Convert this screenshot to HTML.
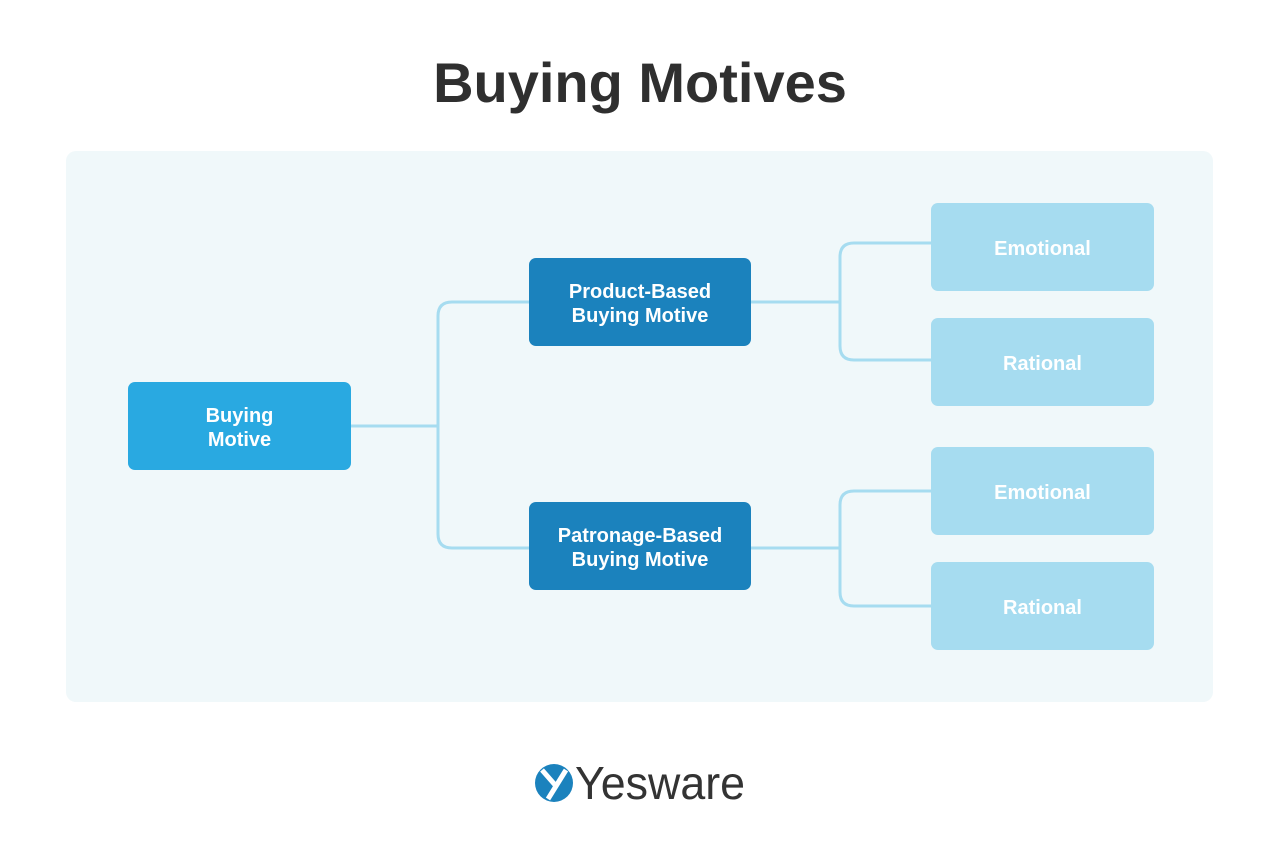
<!DOCTYPE html>
<html><head><meta charset="utf-8"><style>
body{margin:0;width:1280px;height:863px;background:#fff;position:relative;overflow:hidden;font-family:"Liberation Sans",sans-serif}
.t{position:absolute;left:0;width:1280px;top:50px;text-align:center;font-size:56px;font-weight:bold;color:#2f2f2f;letter-spacing:0px}
.panel{position:absolute;left:66px;top:151px;width:1147px;height:551px;background:#f0f8fa;border-radius:10px}
.b{position:absolute;display:flex;align-items:center;justify-content:center;text-align:center;color:#fff;font-weight:bold;font-size:20px;line-height:24px;border-radius:7px;padding-top:3px;box-sizing:border-box}
.d{background:#1b82bd;width:222px;height:88px;left:529px}
.l{background:#a6dcf0;width:223px;height:88px;left:931px}
svg{position:absolute;left:0;top:0}
</style></head><body>
<div class="t">Buying Motives</div>
<div class="panel"></div>
<svg width="1280" height="863"><g fill="none" stroke="#a6dcf0" stroke-width="3">
<path d="M351 426H438"/>
<path d="M529 302H452Q438 302 438 316V534Q438 548 452 548H529"/>
<path d="M751 302H840"/><path d="M931 243H854Q840 243 840 257V346Q840 360 854 360H931"/>
<path d="M751 548H840"/><path d="M931 491H854Q840 491 840 505V592Q840 606 854 606H931"/>
</g>
<circle cx="554" cy="783" r="19" fill="#1b82bd"/>
<path d="M542 770L556 786M566 770L548 799" stroke="#fff" stroke-width="5" fill="none"/>
<text x="575" y="799" font-family="Liberation Sans" font-size="46" fill="#333" textLength="170" lengthAdjust="spacingAndGlyphs">Yesware</text>
</svg>
<div class="b" style="background:#29a9e1;left:128px;top:382px;width:223px;height:88px">Buying<br>Motive</div>
<div class="b d" style="top:258px">Product-Based<br>Buying Motive</div>
<div class="b d" style="top:502px">Patronage-Based<br>Buying Motive</div>
<div class="b l" style="top:203px">Emotional</div>
<div class="b l" style="top:318px">Rational</div>
<div class="b l" style="top:447px">Emotional</div>
<div class="b l" style="top:562px">Rational</div>
</body></html>
